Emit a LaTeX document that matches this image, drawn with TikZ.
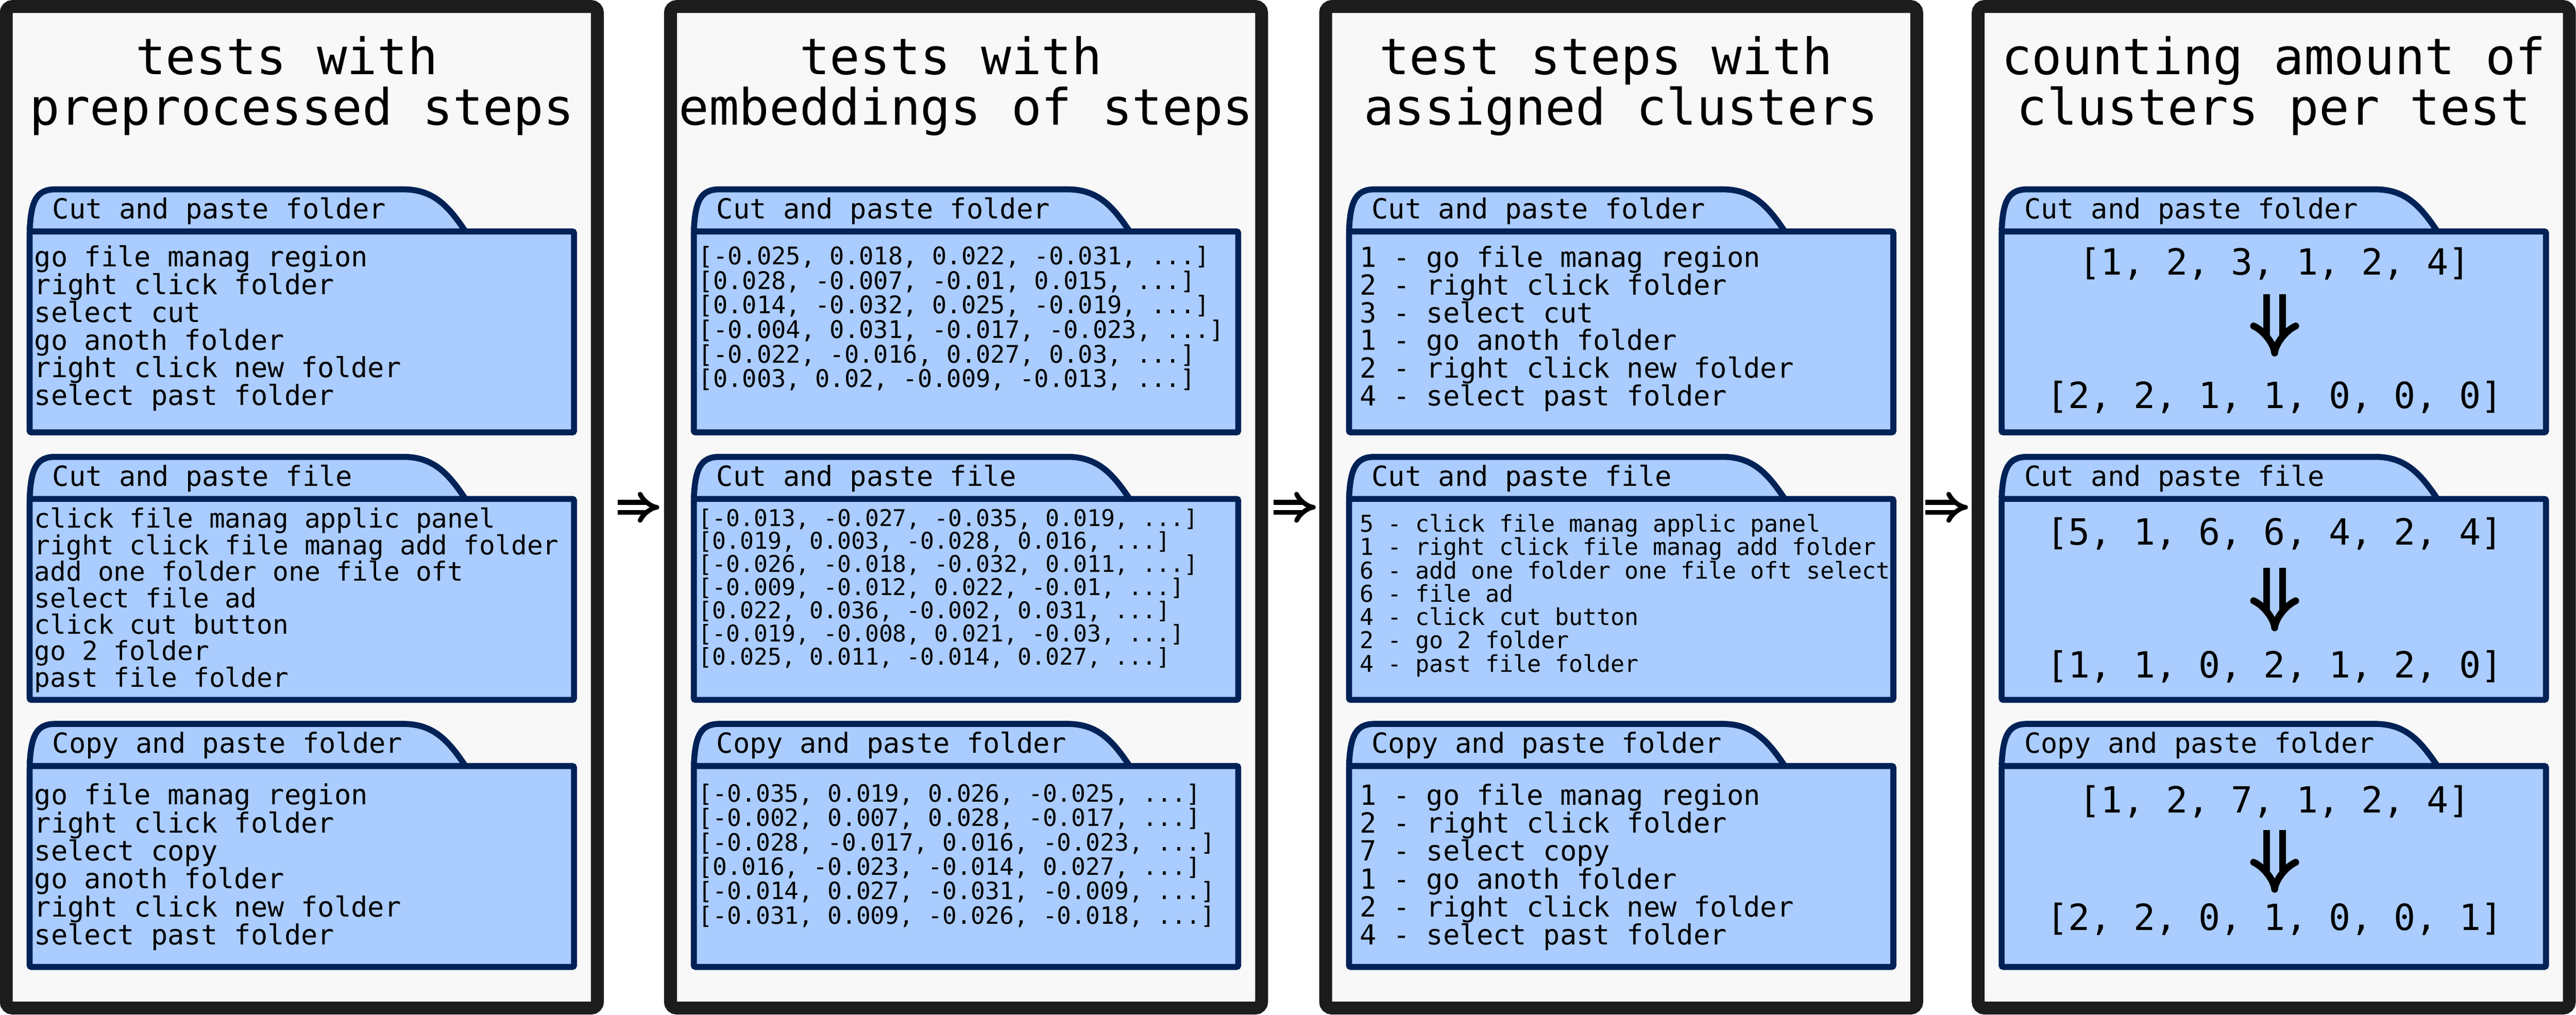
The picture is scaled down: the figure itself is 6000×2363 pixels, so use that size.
\documentclass[tikz,border=0pt]{standalone}
\usepackage{fontspec}
\setmainfont{DejaVu Sans Mono}
\usetikzlibrary{arrows.meta}

\definecolor{framegray}{HTML}{1C1C1C}
\definecolor{panelgray}{HTML}{F8F8F8}
\definecolor{foldernavy}{HTML}{002257}
\definecolor{folderblue}{HTML}{AACCFF}

\newcommand\fsz[2]{\fontsize{#1pt}{#2pt}\selectfont}

\tikzset{
  panel/.style={draw=framegray, fill=panelgray, line width=3pt, rounded corners=1.5pt,
    minimum width=137.7pt, minimum height=233.3pt},
  title/.style={anchor=base, align=center, inner sep=0, font=\fsz{11.7}{11.7}},
  folder/.style={draw=foldernavy, fill=folderblue, line width=1.4pt, rounded corners=0.4pt,
    minimum width=126.8pt, minimum height=46.8pt, inner sep=0, outer sep=0},
  tab/.style={draw=foldernavy, fill=folderblue, line width=1.4pt},
  tab label/.style={anchor=base west, inner sep=0, font=\fsz{6.45}{6.45}},
  steps/.style={anchor=base west, align=left, inner sep=0},
  counts/.style={anchor=base, inner sep=0, font=\fsz{8.4}{8.4}},
  next panel/.style={double=white, double distance=1.2pt, line width=1.1pt, -{Implies}},
  reduce/.style={double=folderblue, double distance=2.1pt, line width=1.6pt, -{Implies}}
}

\begin{document}
\begin{tikzpicture}[x=0.1pt, y=-0.1pt]
\useasboundingbox (0,0) rectangle (6000,2363);

% panels, titles and empty folders (base = last line)
\foreach \x/\t [count=\i] in {703/{tests with\phantom{x}\\preprocessed steps},
    2250/{tests with\phantom{x}\\embeddings of steps},
    3776/{test steps with\phantom{x}\\assigned clusters},
    5296/{counting amount of\\clusters per test}}
{
  \node [panel] (panel-\i) at (\x,1181.5) {};
  \node [title] (title-\i) at (\x,291) {\t};
  \foreach \y/\l [count=\j] in {441/Cut and paste folder, 1064/Cut and paste file, 1686/Copy and paste folder}
  {
    \draw [tab] (\x-634,\y+98) .. controls +(3,-70) and +(-45,0) .. ++(60,-98)
      -- ++(810,0) .. controls +(70,0) and +(-40,-60) .. ++(145,98);
    \node [folder] (folder-\i-\j) at (\x,\y+332) {};
    \node [tab label] (tab-\i-\j) at (\x-583,\y+68) {\l};
  }
}

% preprocessed steps
\node [steps, font=\fsz{6.45}{6.46}] (steps-1-1) at (78,944)
  {go file manag region\\right click folder\\select cut\\go anoth folder\\right click new folder\\select past folder};
\node [steps, font=\fsz{6.15}{6.17}] (steps-1-2) at (78,1600)
  {click file manag applic panel\\right click file manag add folder\\add one folder one file oft\\select file ad\\click cut button\\go 2 folder\\past file folder};
\node [steps, font=\fsz{6.45}{6.52}] (steps-1-3) at (78,2200)
  {go file manag region\\right click folder\\select copy\\go anoth folder\\right click new folder\\select past folder};

% embeddings
\node [steps, font=\fsz{5.65}{5.72}] (steps-2-1) at (1625,902)
  {[-0.025, 0.018, 0.022, -0.031, ...]\\{}[0.028, -0.007, -0.01, 0.015, ...]\\{}[0.014, -0.032, 0.025, -0.019, ...]\\{}[-0.004, 0.031, -0.017, -0.023, ...]\\{}[-0.022, -0.016, 0.027, 0.03, ...]\\{}[0.003, 0.02, -0.009, -0.013, ...]};
\node [steps, font=\fsz{5.37}{5.38}] (steps-2-2) at (1625,1548)
  {[-0.013, -0.027, -0.035, 0.019, ...]\\{}[0.019, 0.003, -0.028, 0.016, ...]\\{}[-0.026, -0.018, -0.032, 0.011, ...]\\{}[-0.009, -0.012, 0.022, -0.01, ...]\\{}[0.022, 0.036, -0.002, 0.031, ...]\\{}[-0.019, -0.008, 0.021, -0.03, ...]\\{}[0.025, 0.011, -0.014, 0.027, ...]};
\node [steps, font=\fsz{5.55}{5.69}] (steps-2-3) at (1625,2152)
  {[-0.035, 0.019, 0.026, -0.025, ...]\\{}[-0.002, 0.007, 0.028, -0.017, ...]\\{}[-0.028, -0.017, 0.016, -0.023, ...]\\{}[0.016, -0.023, -0.014, 0.027, ...]\\{}[-0.014, 0.027, -0.031, -0.009, ...]\\{}[-0.031, 0.009, -0.026, -0.018, ...]};

% clusters
\node [steps, font=\fsz{6.46}{6.46}] (steps-3-1) at (3165,945)
  {1 - go file manag region\\2 - right click folder\\3 - select cut\\1 - go anoth folder\\2 - right click new folder\\4 - select past folder};
\node [steps, font=\fsz{5.4}{5.43}] (steps-3-2) at (3165,1565)
  {5 - click file manag applic panel\\1 - right click file manag add folder\\6 - add one folder one file oft select\\6 - file ad\\4 - click cut button\\2 - go 2 folder\\4 - past file folder};
\node [steps, font=\fsz{6.46}{6.5}] (steps-3-3) at (3165,2200)
  {1 - go file manag region\\2 - right click folder\\7 - select copy\\1 - go anoth folder\\2 - right click new folder\\4 - select past folder};

% counting
\node [counts] (list-1) at (5298,640) {[1, 2, 3, 1, 2, 4]};
\node [counts] (count-1) at (5298,951) {[2, 2, 1, 1, 0, 0, 0]};
\node [counts] (list-2) at (5298,1269) {[5, 1, 6, 6, 4, 2, 4]};
\node [counts] (count-2) at (5298,1579) {[1, 1, 0, 2, 1, 2, 0]};
\node [counts] (list-3) at (5298,1893) {[1, 2, 7, 1, 2, 4]};
\node [counts] (count-3) at (5298,2167) {[2, 2, 0, 1, 0, 0, 1]};

\foreach \j/\s/\e in {1/3.2/5.5, 2/4.0/4.3, 3/2.7/2.2}
  \draw [reduce, shorten <=\s pt, shorten >=\e pt] (list-\j) -- (count-\j);

\foreach \i/\j/\s/\e in {1/2/3.2/1.1, 2/3/1.3/0.8, 3/4/0.5/0.9}
  \draw [next panel, shorten <=\s pt, shorten >=\e pt] (panel-\i.east) -- (panel-\j.west);

\end{tikzpicture}
\end{document}
